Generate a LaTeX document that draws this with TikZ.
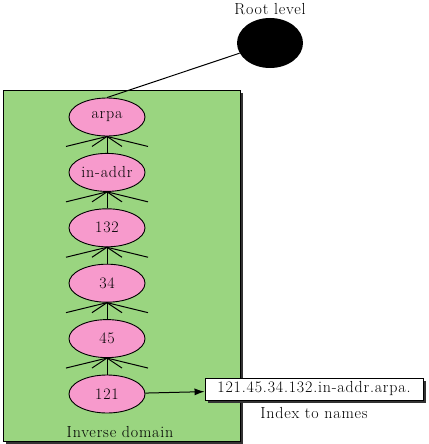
\documentclass[tikz,border=0pt]{standalone}
\usepackage{fontspec}
\usetikzlibrary{positioning,arrows.meta,shapes.geometric,shadows}
\newfontfamily\lblfont[LetterSpace=5]{Latin Modern Roman}
\definecolor{leaf}{HTML}{9AD580}
\definecolor{blush}{HTML}{F79ACC}

\begin{document}
\begin{tikzpicture}[x=1pt, y=-1pt, node distance=16.5pt,
  level/.style={ellipse, draw, line width=0.9pt, fill=blush, minimum width=76pt, minimum height=38pt, inner sep=0pt, font=\lblfont\fontsize{16}{19}\selectfont},
  caption/.style={font=\lblfont\fontsize{16}{19}\selectfont, inner sep=0pt},
  shade box/.style={draw, line width=0.9pt, drop shadow={shadow xshift=3pt, shadow yshift=-3pt, fill=black!80, opacity=1}},
  fan/.style={line width=1pt}]
\useasboundingbox (0,0) rectangle (428,444);
\node[shade box, fill=leaf, minimum width=237pt, minimum height=351pt] (domain) at (121.5,265.5) {};
\node[caption] (rootlbl) at (270,9) {Root level};
\node[ellipse, fill=black, minimum width=66pt, minimum height=50pt] (root) at (270,43) {};
\node[level] (arpa) at (107,117) {arpa};
\node[level, below=of arpa] (inaddr) {in-addr};
\node[level, below=of inaddr] (n132) {132};
\node[level, below=of n132] (n34) {34};
\node[level, below=of n34] (n45) {45};
\node[level, below=of n45] (n121) {121};
\draw[fan] (root) -- (arpa.north);
% links and the other children of each level
\foreach \up/\down in {arpa/inaddr, inaddr/n132, n132/n34, n34/n45, n45/n121} {
  \draw[fan] (\down.north) -- (\up.south);
  \foreach \dx in {-41,-15,15,41}
    \draw[fan] (\up.south) -- ++(\dx,10);
}
\node[shade box, fill=white, minimum width=218pt, minimum height=22pt, inner sep=0pt, font=\lblfont\fontsize{16}{19}\selectfont] (ptr) at (314,389) {121.45.34.132.in-addr.arpa.};
\draw[-{Latex[length=10pt,width=7pt]}, line width=1pt] (n121) -- (ptr);
\node[caption, below=7pt of ptr] (ptrlbl) {Index to names};
\node[caption] (domainlbl) at (120,432) {Inverse domain};
\end{tikzpicture}
\end{document}
